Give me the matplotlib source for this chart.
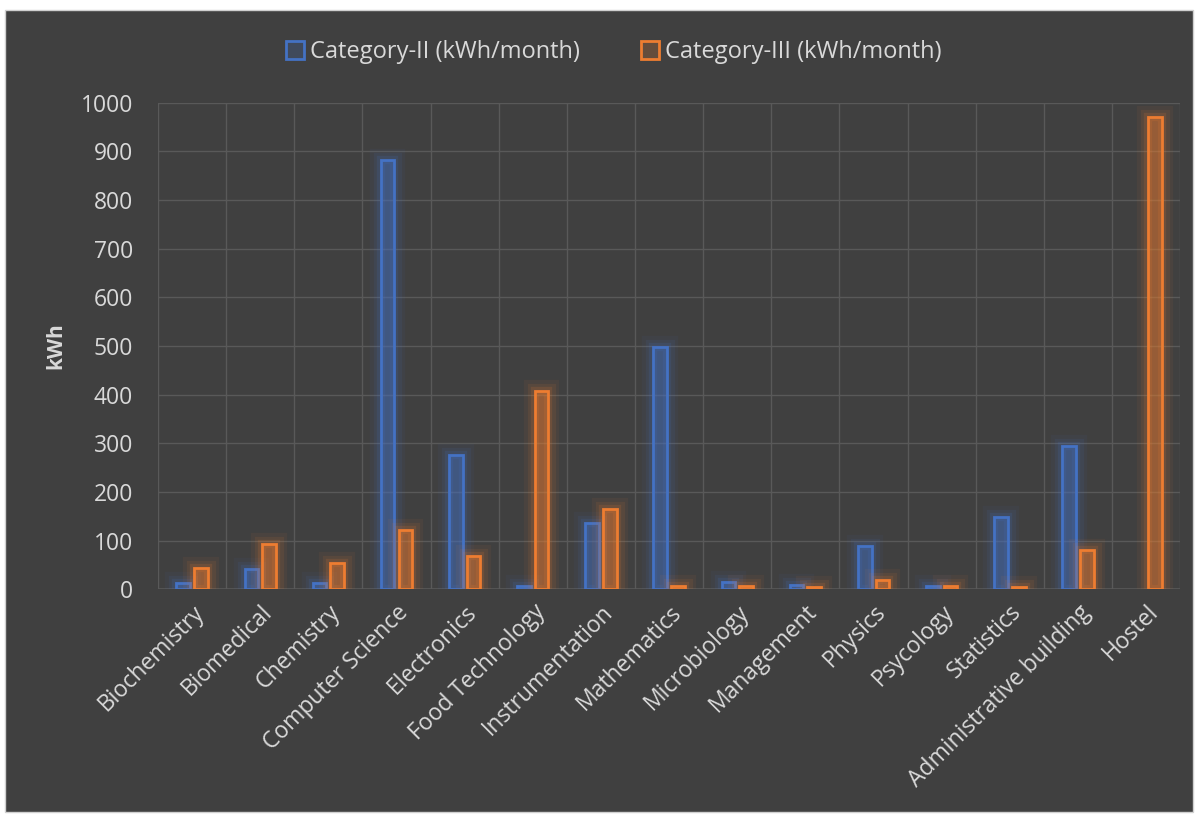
import numpy as np
import matplotlib.pyplot as plt
import matplotlib.patheffects as pe
from matplotlib.patches import Rectangle

# 数据
categories = ['Biochemistry', 'Biomedical', 'Chemistry', 'Computer Science', 'Electronics',
              'Food Technology', 'Instrumentation', 'Mathematics', 'Microbiology', 'Management',
              'Physics', 'Psycology', 'Statistics', 'Administrative building', 'Hostel']
cat2 = [12, 41, 12, 883, 276, 6, 136, 498, 15, 8, 88, 6, 148, 294, 0]
cat3 = [43, 92, 53, 121, 68, 407, 165, 6, 6, 4, 18, 7, 4, 80, 971]
series_names = ['Category-II (kWh/month)', 'Category-III (kWh/month)']

BG = '#404040'
TXT = '#d9d9d9'
GRID = '#595959'
BLUE = '#4472c4'
ORANGE = '#ed7d31'

plt.rcParams['font.family'] = ['Open Sans', 'DejaVu Sans']

fig = plt.figure(figsize=(11.97, 8.16), dpi=100, facecolor='white')
fig.patches.append(Rectangle((5 / 1197, 4 / 816), 1188 / 1197, 802 / 816,
                             transform=fig.transFigure, facecolor=BG,
                             edgecolor='#d0d0d0', linewidth=1, zorder=-10))

ax = fig.add_axes([0.132, 0.278, 0.854, 0.596])
ax.set_facecolor(BG)

x = np.arange(len(categories))
w = 0.2
off = 0.13

def glow_bars(xs, vals, color):
    bars = ax.bar(xs, vals, width=w, facecolor=color + '38', edgecolor=color,
                  linewidth=2, zorder=3)
    for b, v in zip(bars, vals):
        if v == 0:
            b.set_visible(False)
        b.set_path_effects([
            pe.Stroke(linewidth=16, foreground=color, alpha=0.06),
            pe.Stroke(linewidth=11, foreground=color, alpha=0.09),
            pe.Stroke(linewidth=6, foreground=color, alpha=0.14),
            pe.Normal(),
        ])
    return bars

b2 = glow_bars(x - off, cat2, BLUE)
b3 = glow_bars(x + off, cat3, ORANGE)

ax.set_xlim(-0.5, len(categories) - 0.5)
ax.set_ylim(0, 1000)
ax.set_yticks(np.arange(0, 1001, 100))

# 网格
for yv in np.arange(100, 1001, 100):
    ax.axhline(yv, color=GRID, linewidth=1, zorder=1)
for xv in np.arange(-0.5, len(categories), 1):
    ax.axvline(xv, color=GRID, linewidth=1, zorder=1)

for s in ax.spines.values():
    s.set_visible(False)
ax.axhline(0, color=GRID, linewidth=1.2, zorder=2)

ax.set_xticks(x)
ax.set_xticklabels(categories, rotation=45, ha='right', rotation_mode='anchor')
ax.tick_params(axis='both', length=0, colors=TXT, labelsize=16.5)
ax.tick_params(axis='y', pad=18)
ax.tick_params(axis='x', pad=8)

ax.set_ylabel('kWh', color=TXT, fontsize=15, fontweight='bold', labelpad=10)

leg = ax.legend([b2, b3], series_names, loc='center', bbox_to_anchor=(0.446, 1.104),
                ncol=2, frameon=False, fontsize=17, labelcolor=TXT,
                handlelength=0.75, handleheight=0.75, handletextpad=0.25, columnspacing=2.6)
for h in leg.legend_handles:
    h.set_path_effects([])

fig.savefig('out.png', dpi=100, facecolor='white')
